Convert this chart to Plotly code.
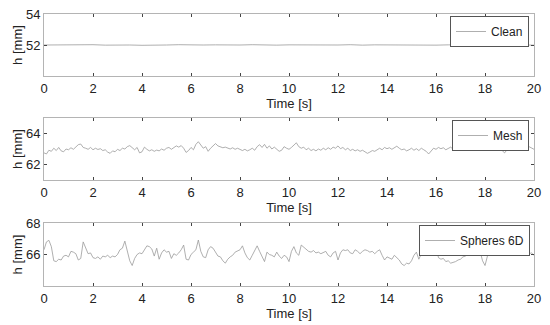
import plotly.graph_objects as go

# ---- data ----
time_fine = [round(i * 0.1, 1) for i in range(201)]
time_coarse = [round(i * 0.5, 1) for i in range(41)]

clean_h = [52.00, 52.01, 51.99, 52.00, 52.02, 51.99, 52.01, 52.00, 51.98, 52.01,
           52.00, 52.02, 51.99, 52.00, 52.01, 51.99, 52.00, 52.02, 52.00, 51.99,
           52.01, 52.00, 51.98, 52.01, 52.00, 52.02, 51.99, 52.01, 52.00, 51.99,
           52.02, 52.00, 51.99, 52.01, 52.00, 52.01, 51.99, 52.00, 52.02, 52.00,
           51.99]

mesh_h = [62.75, 62.68, 62.92, 62.85, 63.05, 62.90, 63.10, 62.88, 62.82, 63.00,
          62.95, 63.08, 62.98, 63.15, 63.28, 63.32, 63.10, 63.05, 62.98, 63.10,
          62.95, 63.05, 62.97, 63.02, 62.90, 62.95, 62.80, 62.72, 62.88, 62.82,
          62.98, 62.90, 63.05, 63.00, 63.15, 63.22, 63.08, 62.95, 63.10, 62.75,
          62.82, 63.12, 62.98, 62.88, 62.95, 62.85, 62.93, 62.88, 63.00, 62.92,
          63.05, 63.10, 62.98, 63.08, 63.20, 63.12, 63.22, 63.05, 62.78, 62.90,
          63.10, 62.95, 63.30, 63.47, 63.25, 63.05, 63.15, 62.85, 63.05, 63.20,
          63.35, 63.20, 63.15, 63.08, 63.12, 63.05, 63.00, 63.08, 62.98, 63.05,
          62.95, 62.90, 62.98, 62.88, 62.95, 63.05, 62.92, 63.15, 63.28, 63.10,
          63.30, 63.05, 63.20, 63.00, 63.12, 62.95, 62.85, 62.92, 63.15, 63.05,
          62.98, 63.10, 63.25, 63.40, 63.15, 63.05, 63.12, 62.95, 63.05, 62.90,
          62.98, 62.88, 63.00, 62.92, 63.05, 62.95, 63.08, 62.98, 63.12, 63.05,
          63.20, 63.02, 63.10, 62.95, 63.05, 62.90, 62.98, 62.88, 62.95, 62.85,
          62.92, 62.82, 62.72, 62.80, 62.90, 62.85, 62.98, 63.05, 62.95, 63.10,
          63.02, 63.08, 62.98, 63.10, 63.18, 63.05, 62.95, 63.00, 62.88, 62.95,
          63.05, 62.92, 63.02, 62.90, 63.05, 62.95, 62.85, 62.68, 62.90, 63.05,
          62.98, 63.10, 63.02, 63.08, 62.95, 63.05, 63.12, 62.98, 63.15, 63.05,
          63.20, 63.08, 63.15, 63.02, 63.25, 63.10, 63.18, 63.05, 63.12, 63.20,
          63.08, 63.15, 63.02, 63.10, 62.95, 63.05, 63.12, 62.90, 62.75, 62.95,
          63.10, 63.02, 63.20, 63.08, 63.15, 62.98, 63.10, 63.28, 63.15, 63.05,
          62.98]

spheres_h = [66.30, 66.80, 66.90, 66.50, 65.60, 65.55, 65.70, 65.65, 65.90, 65.95,
             65.85, 66.20, 66.15, 66.05, 65.65, 65.75, 66.80, 66.45, 66.05, 66.10,
             65.80, 65.75, 65.85, 65.70, 65.90, 65.85, 65.95, 65.80, 65.90, 65.85,
             66.00, 66.30, 66.40, 66.85, 66.20, 65.60, 65.30, 65.75, 66.00, 66.10,
             66.05, 66.30, 66.55, 66.50, 66.35, 65.90, 66.40, 65.70, 66.10, 66.30,
             66.15, 66.20, 65.75, 66.05, 65.95, 66.10, 66.30, 66.60, 65.70, 65.65,
             66.00, 66.15, 66.30, 66.92, 66.20, 65.85, 65.80, 66.30, 66.50, 66.40,
             66.10, 65.90, 65.85, 65.60, 65.45, 65.70, 65.85, 65.95, 66.15, 66.25,
             66.30, 66.55, 66.10, 65.80, 65.65, 65.95, 66.30, 66.55, 66.20, 65.85,
             65.55, 66.15, 66.00, 65.95, 65.85, 66.15, 65.90, 65.75, 65.95, 65.85,
             65.55, 66.20, 66.50, 66.10, 65.95, 66.60, 66.45, 66.35, 66.20, 66.15,
             66.25, 66.10, 66.15, 66.05, 66.15, 66.20, 65.95, 65.85, 66.10, 66.20,
             65.65, 66.10, 66.30, 66.25, 66.30, 66.10, 66.05, 66.30, 66.20, 66.05,
             66.20, 66.30, 66.25, 66.15, 66.20, 66.05, 66.20, 66.30, 65.95, 65.65,
             65.85, 65.75, 65.70, 65.95, 65.80, 65.65, 65.40, 65.30, 65.45, 65.40,
             65.60, 65.95, 66.15, 65.70, 66.05, 66.20, 66.30, 66.50, 67.00, 66.90,
             66.60, 65.80, 65.70, 65.75, 65.55, 65.60, 65.45, 65.50, 65.55, 65.65,
             65.70, 65.85, 65.90, 66.05, 66.15, 66.25, 66.40, 66.55, 66.20, 65.60,
             65.30, 65.90, 66.30, 66.50, 66.60, 66.40, 66.50, 66.45, 66.55, 66.40,
             66.50, 66.60, 66.45, 66.30, 66.15, 65.95, 66.10, 66.30, 66.05, 66.10,
             65.95]

series_names = ["Clean", "Mesh", "Spheres 6D"]
y_ranges = [[50, 54], [61, 65], [64, 68]]
y_ticks = [[52, 54], [62, 64], [66, 68]]
x_ticks = [0, 2, 4, 6, 8, 10, 12, 14, 16, 18, 20]

# ---- figure ----
W, H = 550, 325
ML, MR, MT, MB = 44, 16, 14, 39
ph = H - MT - MB
pw = W - ML - MR
panel_px = [(14, 76), (118, 180), (223, 286)]
domains = [[(H - MB - b) / ph, (H - MB - t) / ph] for t, b in panel_px]
domains = [[max(0, d0), min(1, d1)] for d0, d1 in domains]

font_family = "Liberation Sans, Arial, sans-serif"
line_col = "#9a9a9a"

fig = go.Figure()
xs = [time_coarse, time_fine, time_fine]
ys = [clean_h, mesh_h, spheres_h]
legend_ids = ["legend", "legend2", "legend3"]
for i in range(3):
    fig.add_trace(go.Scatter(
        x=xs[i], y=ys[i], mode="lines", name=series_names[i],
        line=dict(color=line_col, width=0.8),
        xaxis="x" if i == 0 else f"x{i+1}",
        yaxis="y" if i == 0 else f"y{i+1}",
        legend=legend_ids[i], showlegend=True,
    ))

layout = dict(
    width=W, height=H,
    margin=dict(l=ML, r=MR, t=MT, b=MB, autoexpand=False),
    paper_bgcolor="white", plot_bgcolor="white",
    font=dict(family=font_family, size=12, color="#222"),
)

axis_common = dict(
    showgrid=False, zeroline=False, showline=True, linecolor="#b4b4b4", linewidth=1,
    mirror="ticks", ticks="inside", ticklen=3, tickcolor="#444", tickwidth=1,
    tickfont=dict(size=13, color="#222", family=font_family), automargin=False,
)

legend_px = [(529, 16), (529, 120), (530, 225)]
for i in range(3):
    sx = "" if i == 0 else str(i + 1)
    layout[f"xaxis{sx}"] = dict(
        axis_common, domain=[0, 1], range=[0, 20], tickvals=x_ticks,
        anchor=f"y{sx}",
        title=dict(text="Time [s]", font=dict(size=13, family=font_family), standoff=0),
    )
    layout[f"yaxis{sx}"] = dict(
        axis_common, domain=domains[i], range=y_ranges[i], tickvals=y_ticks[i],
        anchor=f"x{sx}",
        title=dict(text="h [mm]", font=dict(size=13, family=font_family), standoff=0),
    )
    lx, ly = legend_px[i]
    layout[legend_ids[i]] = dict(
        x=(lx - ML) / pw, y=(H - MB - ly) / ph,
        xanchor="right", yanchor="top",
        bgcolor="white", bordercolor="#555", borderwidth=1,
        font=dict(size=12, family=font_family, color="#222"),
        itemwidth=30, tracegroupgap=0,
    )

fig.update_layout(**layout)
fig.write_html(
    "out.html",
    config={"displayModeBar": False},
    post_script="document.body.style.margin='0';document.body.style.padding='0';"
                "document.documentElement.style.overflow='hidden';",
)
